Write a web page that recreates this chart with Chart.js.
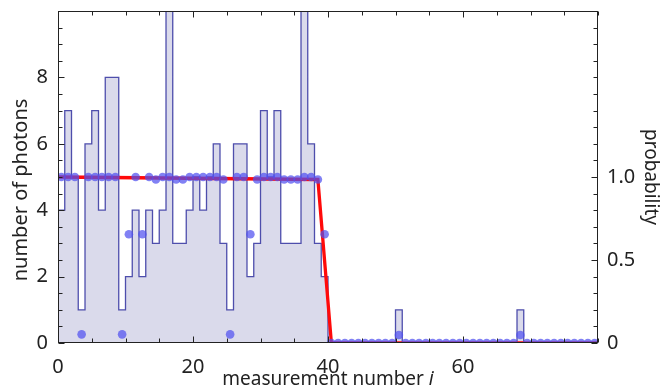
<!DOCTYPE html>
<html>
<head>
<meta charset="utf-8">
<script src="https://cdn.jsdelivr.net/npm/chart.js@4.4.1/dist/chart.umd.min.js"></script>
<style>
  html, body { margin: 0; padding: 0; background: #fff; }
</style>
</head>
<body>
<canvas id="photons" width="662" height="389"></canvas>
<script>
// photons counted in measurement i (bin [i, i+1]); 16 and 36 run off the top
const counts = [
  4, 7, 5, 1, 6, 7, 4, 8, 8, 1,
  2, 4, 2, 4, 3, 4, 11, 3, 3, 4,
  5, 4, 5, 6, 3, 1, 6, 6, 2, 3,
  7, 5, 7, 3, 3, 3, 11, 6, 3, 2,
  0, 0, 0, 0, 0, 0, 0, 0, 0, 0,
  1, 0, 0, 0, 0, 0, 0, 0, 0, 0,
  0, 0, 0, 0, 0, 0, 0, 0, 1, 0,
  0, 0, 0, 0, 0, 0, 0, 0, 0, 0
];
// probability per measurement (blue dots, right axis)
const probs = [
  1, 1, 1, 0.052, 1, 1, 1, 1, 1, 0.052,
  0.655, 1, 0.655, 1, 0.985, 1, 1, 0.985, 0.985, 1,
  1, 1, 1, 1, 0.985, 0.052, 1, 1, 0.655, 0.985,
  1, 1, 1, 0.985, 0.985, 0.985, 1, 1, 0.985, 0.655,
  0, 0, 0, 0, 0, 0, 0, 0, 0, 0,
  0.048, 0, 0, 0, 0, 0, 0, 0, 0, 0,
  0, 0, 0, 0, 0, 0, 0, 0, 0.048, 0,
  0, 0, 0, 0, 0, 0, 0, 0, 0, 0
];
// red curve (right axis)
const fitX = [0, 38.5, 40.5, 80];
const fitY = [1, 0.985, 0, 0];
// labelled ticks
const xLabels = [0, 20, 40, 60];
const yLabels = [0, 2, 4, 6, 8];
const pLabels = [0, 0.5, 1];

const FONT = '"Noto Sans", sans-serif';
Chart.defaults.font.family = FONT;
Chart.defaults.color = '#222';

const isLabel = (list, v) => list.some(t => Math.abs(t - v) < 1e-6);

// inward ticks on all four sides + frame + axis titles
const frameTicks = {
  id: 'frameTicks',
  afterDatasetsDraw(chart) {
    const { ctx, chartArea: a, scales } = chart;
    const L = Math.round(a.left) + 0.5, R = Math.round(a.right) - 0.5;
    const T = Math.round(a.top) + 0.5, B = Math.round(a.bottom) - 0.5;
    ctx.save();
    ctx.strokeStyle = '#222';
    ctx.lineWidth = 1;
    ctx.strokeRect(L, T, R - L, B - T);
    ctx.beginPath();
    scales.x.ticks.forEach(t => {
      const px = Math.round(scales.x.getPixelForValue(t.value)) + 0.5;
      const len = isLabel(xLabels, t.value) ? 6 : 4;
      ctx.moveTo(px, B); ctx.lineTo(px, B - len);
      ctx.moveTo(px, T); ctx.lineTo(px, T + len);
    });
    scales.y.ticks.forEach(t => {
      const py = Math.round(scales.y.getPixelForValue(t.value)) + 0.5;
      const len = isLabel(yLabels, t.value) ? 6 : 4;
      ctx.moveTo(L, py); ctx.lineTo(L + len, py);
    });
    scales.p.ticks.forEach(t => {
      const py = Math.round(scales.p.getPixelForValue(t.value)) + 0.5;
      const len = isLabel(pLabels, t.value) ? 6 : 4;
      ctx.moveTo(R, py); ctx.lineTo(R - len, py);
    });
    ctx.stroke();
    ctx.restore();
  },
  afterDraw(chart) {
    const { ctx, chartArea: a } = chart;
    ctx.save();
    ctx.fillStyle = '#222';
    // x title with italic i
    const main = 'measurement number ';
    ctx.textBaseline = 'alphabetic';
    ctx.font = '19px ' + FONT;
    const w1 = ctx.measureText(main).width;
    ctx.font = 'italic 19px ' + FONT;
    const w2 = ctx.measureText('i').width;
    const x0 = (a.left + a.right) / 2 - (w1 + w2) / 2;
    ctx.font = '19px ' + FONT;
    ctx.fillText(main, x0, 385);
    ctx.font = 'italic 19px ' + FONT;
    ctx.fillText('i', x0 + w1, 385);
    // left title
    ctx.translate(21, 190);
    ctx.rotate(-Math.PI / 2);
    ctx.font = '20px ' + FONT;
    ctx.textAlign = 'center';
    ctx.textBaseline = 'middle';
    ctx.fillText('number of photons', 0, 0);
    ctx.restore();
  }
};

const histPoints = counts.map((c, i) => ({ x: i, y: c }));
histPoints.push({ x: counts.length, y: counts[counts.length - 1] });

new Chart(document.getElementById('photons'), {
  type: 'line',
  data: {
    datasets: [
      {
        type: 'scatter',
        data: probs.map((p, i) => ({ x: i + 0.5, y: p })),
        yAxisID: 'p',
        pointRadius: 4.3,
        pointBackgroundColor: 'rgba(80, 80, 240, 0.72)',
        pointBorderWidth: 0,
        order: 0
      },
      {
        data: fitX.map((x, i) => ({ x: x, y: fitY[i] })),
        yAxisID: 'p',
        borderColor: '#ff0a0a',
        borderWidth: 3.3,
        pointRadius: 0,
        fill: false,
        order: 1
      },
      {
        data: histPoints,
        yAxisID: 'y',
        stepped: 'before',
        borderColor: 'rgba(50, 50, 160, 0.85)',
        borderWidth: 1.3,
        backgroundColor: 'rgb(218, 218, 235)',
        fill: 'origin',
        pointRadius: 0,
        order: 2
      }
    ]
  },
  options: {
    responsive: false,
    devicePixelRatio: 1,
    animation: false,
    layout: { padding: { top: 11, left: 0, right: 0, bottom: 0 } },
    plugins: {
      legend: { display: false },
      tooltip: { enabled: false }
    },
    scales: {
      x: {
        type: 'linear',
        min: 0,
        max: 80,
        grid: { display: false, drawTicks: false },
        border: { display: false },
        ticks: {
          stepSize: 5,
          autoSkip: false,
          maxRotation: 0,
          padding: 12,
          font: { size: 20 },
          callback: v => isLabel(xLabels, v) ? String(v) : ''
        },
        afterFit: s => { s.height = 46; s.paddingLeft = 0; s.paddingRight = 0; }
      },
      y: {
        position: 'left',
        min: 0,
        max: 10,
        grid: { display: false, drawTicks: false },
        border: { display: false },
        ticks: {
          stepSize: 0.5,
          autoSkip: false,
          padding: 10,
          font: { size: 20 },
          callback: v => isLabel(yLabels, v) ? String(v) : ''
        },
        afterFit: s => { s.width = 58; s.paddingTop = 0; s.paddingBottom = 0; }
      },
      p: {
        position: 'right',
        min: 0,
        max: 2,
        grid: { display: false, drawTicks: false },
        border: { display: false },
        ticks: {
          stepSize: 0.1,
          autoSkip: false,
          padding: 9,
          font: { size: 20 },
          callback: v => {
            if (!isLabel(pLabels, v)) return '';
            return v === 0 ? '0' : v.toFixed(1);
          }
        },
        title: {
          display: true,
          text: 'probability',
          font: { size: 19 },
          padding: { top: 0, bottom: 0 }
        },
        afterFit: s => { s.width = 64; s.paddingTop = 0; s.paddingBottom = 0; }
      }
    }
  },
  plugins: [frameTicks]
});
</script>
</body>
</html>
